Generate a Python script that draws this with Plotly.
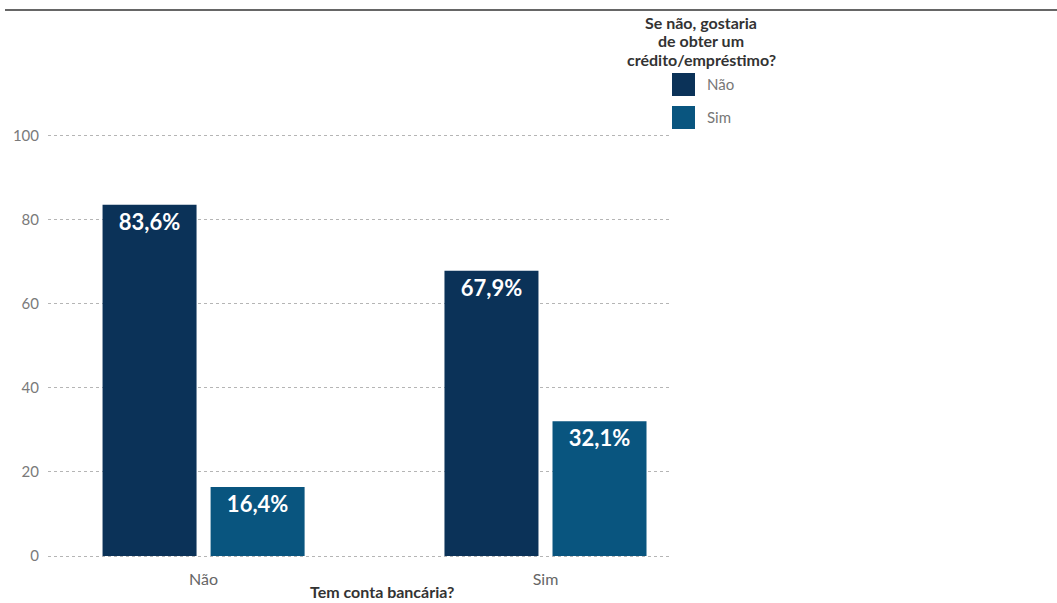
import plotly.graph_objects as go

categories = ["Não", "Sim"]
series_names = ["Não", "Sim"]
values_nao = [83.6, 67.9]
values_sim = [16.4, 32.1]
labels_nao = ["83,6%", "67,9%"]
labels_sim = ["16,4%", "32,1%"]
y_ticks = [0, 20, 40, 60, 80, 100]
legend_title_lines = ["Se não, gostaria", "de obter um", "crédito/empréstimo?"]

colors = ["#0b3258", "#09557f"]

W, H = 1057, 603
L, R = 48, 672
T, B = 130, 560

fig = go.Figure()
for name, vals, labs, col in zip(series_names, [values_nao, values_sim],
                                 [labels_nao, labels_sim], colors):
    fig.add_trace(go.Bar(
        x=categories, y=vals, name=name, marker=dict(color=col, line=dict(width=0)),
        text=labs, textposition="inside", insidetextanchor="end",
        textangle=0,
        textfont=dict(family="Lato", size=22, color="white", weight="bold"),
        showlegend=False,
    ))

fig.update_layout(
    width=W, height=H,
    margin=dict(l=L, r=W - R, t=T, b=H - B, pad=0),
    paper_bgcolor="white", plot_bgcolor="white",
    barmode="group", bargap=0.368, bargroupgap=0.13,
    uniformtext=dict(mode=False),
    font=dict(family="Lato", color="#555"),
)
fig.update_xaxes(
    range=[-0.455, 1.37], showgrid=False, zeroline=False, showline=False,
    tickfont=dict(family="Lato", size=16, color="#666"),
    ticklabelstandoff=8,
)
fig.update_yaxes(
    range=[-0.95, 101.4], tickvals=y_ticks,
    showgrid=True, gridcolor="#b5b5b5", gridwidth=1, griddash="dot",
    zeroline=False, showline=False,
    tickfont=dict(family="Lato", size=15, color="#7a7a7a"),
    ticklabelstandoff=8,
)

# top rule
fig.add_shape(type="line", xref="paper", yref="paper",
              x0=(5 - L) / (R - L), x1=(W - L) / (R - L),
              y0=(B - 10) / (B - T), y1=(B - 10) / (B - T),
              line=dict(color="#666666", width=2))

def px(x):
    return (x - L) / (R - L)

def py(y):
    return (B - y) / (B - T)

# axis title
fig.add_annotation(text="<b>Tem conta bancária?</b>", xref="paper", yref="paper",
                   x=px(382), y=py(591), showarrow=False,
                   font=dict(family="Lato", size=16, color="#333"),
                   xanchor="center", yanchor="middle")

# legend title (one annotation per line for exact spacing)
for i, line in enumerate(legend_title_lines):
    fig.add_annotation(text="<b>" + line + "</b>",
                       xref="paper", yref="paper", x=px(701), y=py(22 + i * 18.5),
                       showarrow=False, align="center",
                       font=dict(family="Lato", size=16, color="#333"),
                       xanchor="center", yanchor="middle")

# legend items
for i, (name, col) in enumerate(zip(series_names, colors)):
    y0 = 73 + i * 33
    fig.add_shape(type="rect", xref="paper", yref="paper",
                  x0=px(672), x1=px(695), y0=py(y0 + 23), y1=py(y0),
                  fillcolor=col, line=dict(width=0))
    fig.add_annotation(text=name, xref="paper", yref="paper",
                       x=px(705), y=py(y0 + 11.5), showarrow=False,
                       xanchor="left", yanchor="middle",
                       font=dict(family="Lato", size=15, color="#777"))

fig.write_html("out.html")
